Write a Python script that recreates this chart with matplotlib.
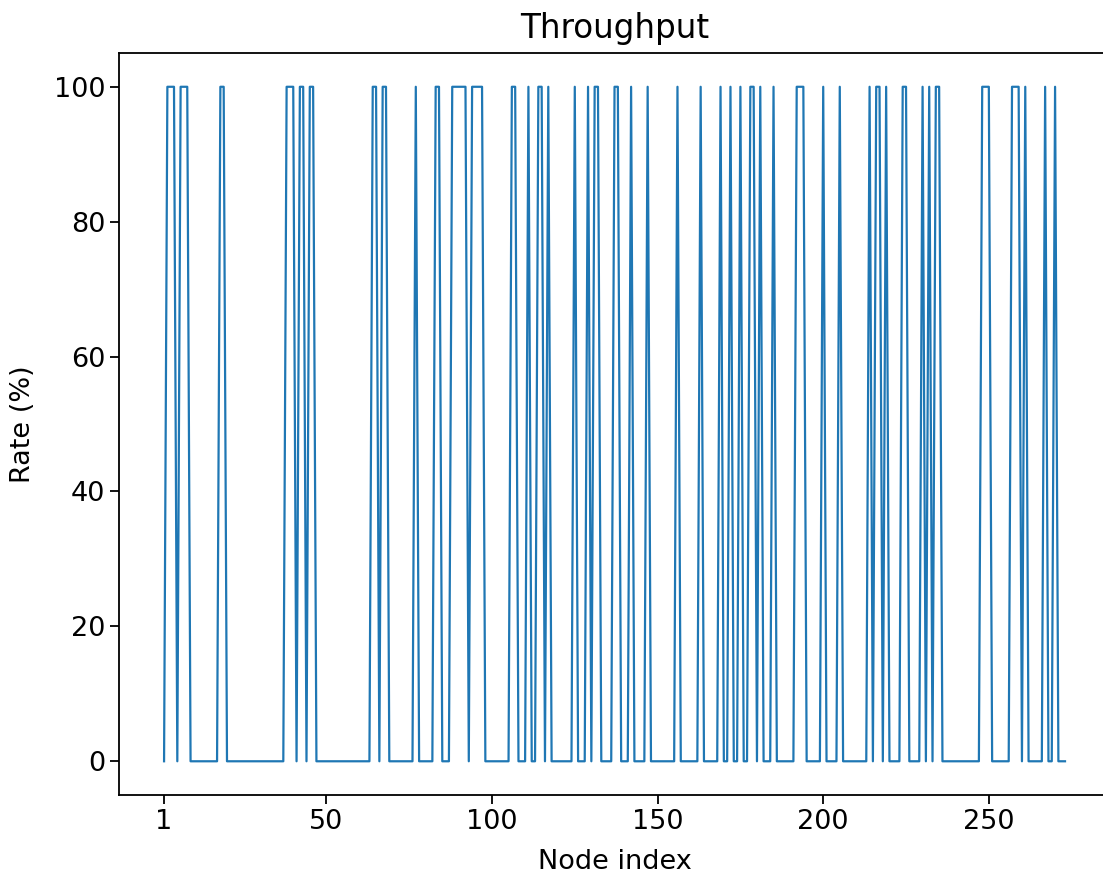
import matplotlib
matplotlib.use("Agg")
import matplotlib.pyplot as plt
import numpy as np

n_nodes = 273
# node indices whose throughput is 100 % (all others are 0 %)
high_nodes = [2, 3, 4, 6, 7, 8, 18, 19, 38, 39, 40, 42, 43, 45, 46, 64, 65, 67, 68,
              77, 83, 84, 88, 89, 90, 91, 92, 94, 95, 96, 97, 106, 107, 111, 114,
              115, 117, 125, 129, 131, 132, 137, 138, 142, 147, 156, 163, 169, 172,
              175, 178, 179, 181, 185, 192, 193, 194, 200, 205, 214, 216, 217, 219,
              224, 225, 230, 232, 234, 235, 248, 249, 250, 257, 258, 259, 261, 267,
              270]
xticks = [1, 50, 100, 150, 200, 250]

nodes = list(range(1, n_nodes + 1))
rate = [100 if i in high_nodes else 0 for i in nodes]

fig = plt.figure(figsize=(11.03, 8.77), dpi=100)
# the original image is cropped on the right: the axes run past the figure edge
ax = fig.add_axes([0.1079, 0.0935, 0.8985, 0.846])
ax.plot(nodes, rate, color="#1f77b4", linewidth=1.6)
ax.set_xticks(xticks)
ax.tick_params(labelsize=19.5, length=6.5, width=1.3)
for s in ax.spines.values():
    s.set_linewidth(1.3)
ax.set_title("Throughput", fontsize=23.5, pad=11)
ax.set_xlabel("Node index", fontsize=19.5, labelpad=10)
ax.set_ylabel("Rate (%)", fontsize=19.5, labelpad=13)
fig.savefig("out.png", dpi=100)
